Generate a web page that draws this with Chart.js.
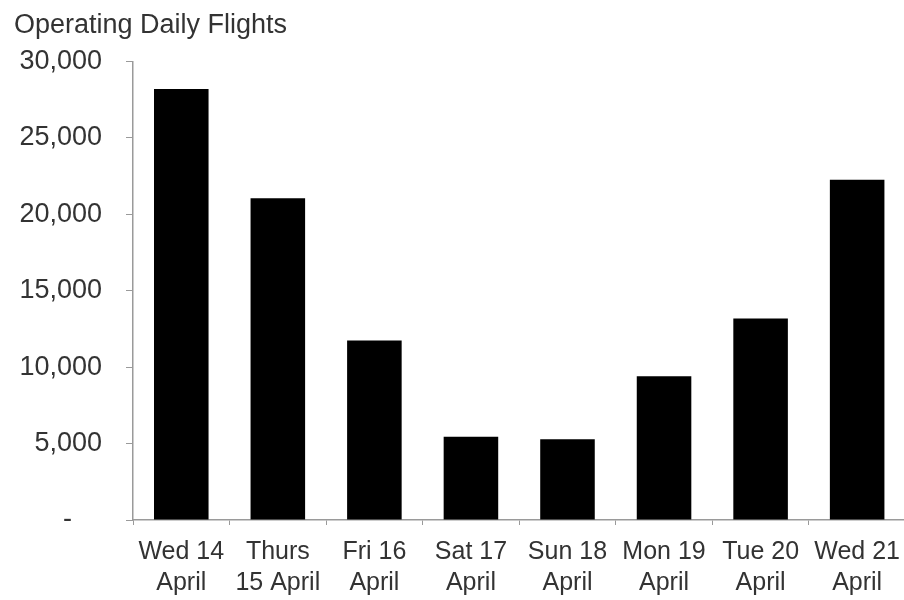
<!DOCTYPE html>
<html>
<head>
<meta charset="utf-8">
<script src="https://cdn.jsdelivr.net/npm/chart.js@4/dist/chart.umd.min.js"></script>
<style>
    html, body { margin: 0; padding: 0; background: #fff; overflow: hidden; }
    #wrap { width: 911px; height: 600px; }
</style>
</head>
<body>
<div id="wrap"><canvas id="flightsChart"></canvas></div>
<script>
// Days on the x axis (two lines each)
const days = [
    ['Wed 14', 'April'],
    ['Thurs', '15 April'],
    ['Fri 16', 'April'],
    ['Sat 17', 'April'],
    ['Sun 18', 'April'],
    ['Mon 19', 'April'],
    ['Tue 20', 'April'],
    ['Wed 21', 'April']
];

// Operating daily flights
const flights = [28200, 21050, 11750, 5450, 5280, 9400, 13180, 22260];

// Y axis ticks
const yTicks = [0, 5000, 10000, 15000, 20000, 25000, 30000];

const textColor = '#333';
const axisColor = '#9a9a9a';

function formatTick(value) {
    // zero is shown as a dash, like an accounting format
    if (value === 0) return '-    ';
    return value.toLocaleString('en-US');
}

const ctx = document.getElementById('flightsChart').getContext('2d');

new Chart(ctx, {
    type: 'bar',
    data: {
        labels: days,
        datasets: [{
            label: 'Operating Daily Flights',
            data: flights,
            backgroundColor: '#000',
            borderWidth: 0,
            barPercentage: 0.565,
            categoryPercentage: 1
        }]
    },
    options: {
        responsive: true,
        maintainAspectRatio: false,
        animation: false,
        layout: { padding: { left: 14, right: 0, top: 0, bottom: 0 } },
        plugins: {
            legend: { display: false },
            tooltip: { enabled: false },
            title: {
                display: true,
                text: 'Operating Daily Flights',
                align: 'start',
                color: textColor,
                font: { family: 'Liberation Sans', size: 27, weight: 'normal' },
                padding: { top: 9, bottom: 20 }
            }
        },
        scales: {
            x: {
                grid: {
                    display: true,
                    drawOnChartArea: false,
                    drawTicks: true,
                    tickLength: 5,
                    color: axisColor,
                    offset: true
                },
                border: { display: true, color: axisColor, width: 1.5 },
                ticks: {
                    color: textColor,
                    font: { family: 'Liberation Sans', size: 25, lineHeight: 1.25 },
                    padding: 11,
                    maxRotation: 0,
                    autoSkip: false
                },
                afterFit: function (scale) {
                    scale.height = 80;
                }
            },
            y: {
                min: 0,
                max: 30000,
                afterBuildTicks: function (scale) {
                    scale.ticks = yTicks.map(v => ({ value: v }));
                },
                grid: {
                    display: true,
                    drawOnChartArea: false,
                    drawTicks: true,
                    tickLength: 7,
                    color: axisColor
                },
                border: { display: true, color: axisColor, width: 1.5 },
                ticks: {
                    color: textColor,
                    font: { family: 'Liberation Sans', size: 27 },
                    padding: 24,
                    callback: formatTick
                },
                afterFit: function (scale) {
                    scale.width = 119;
                }
            }
        }
    }
});
</script>
</body>
</html>
